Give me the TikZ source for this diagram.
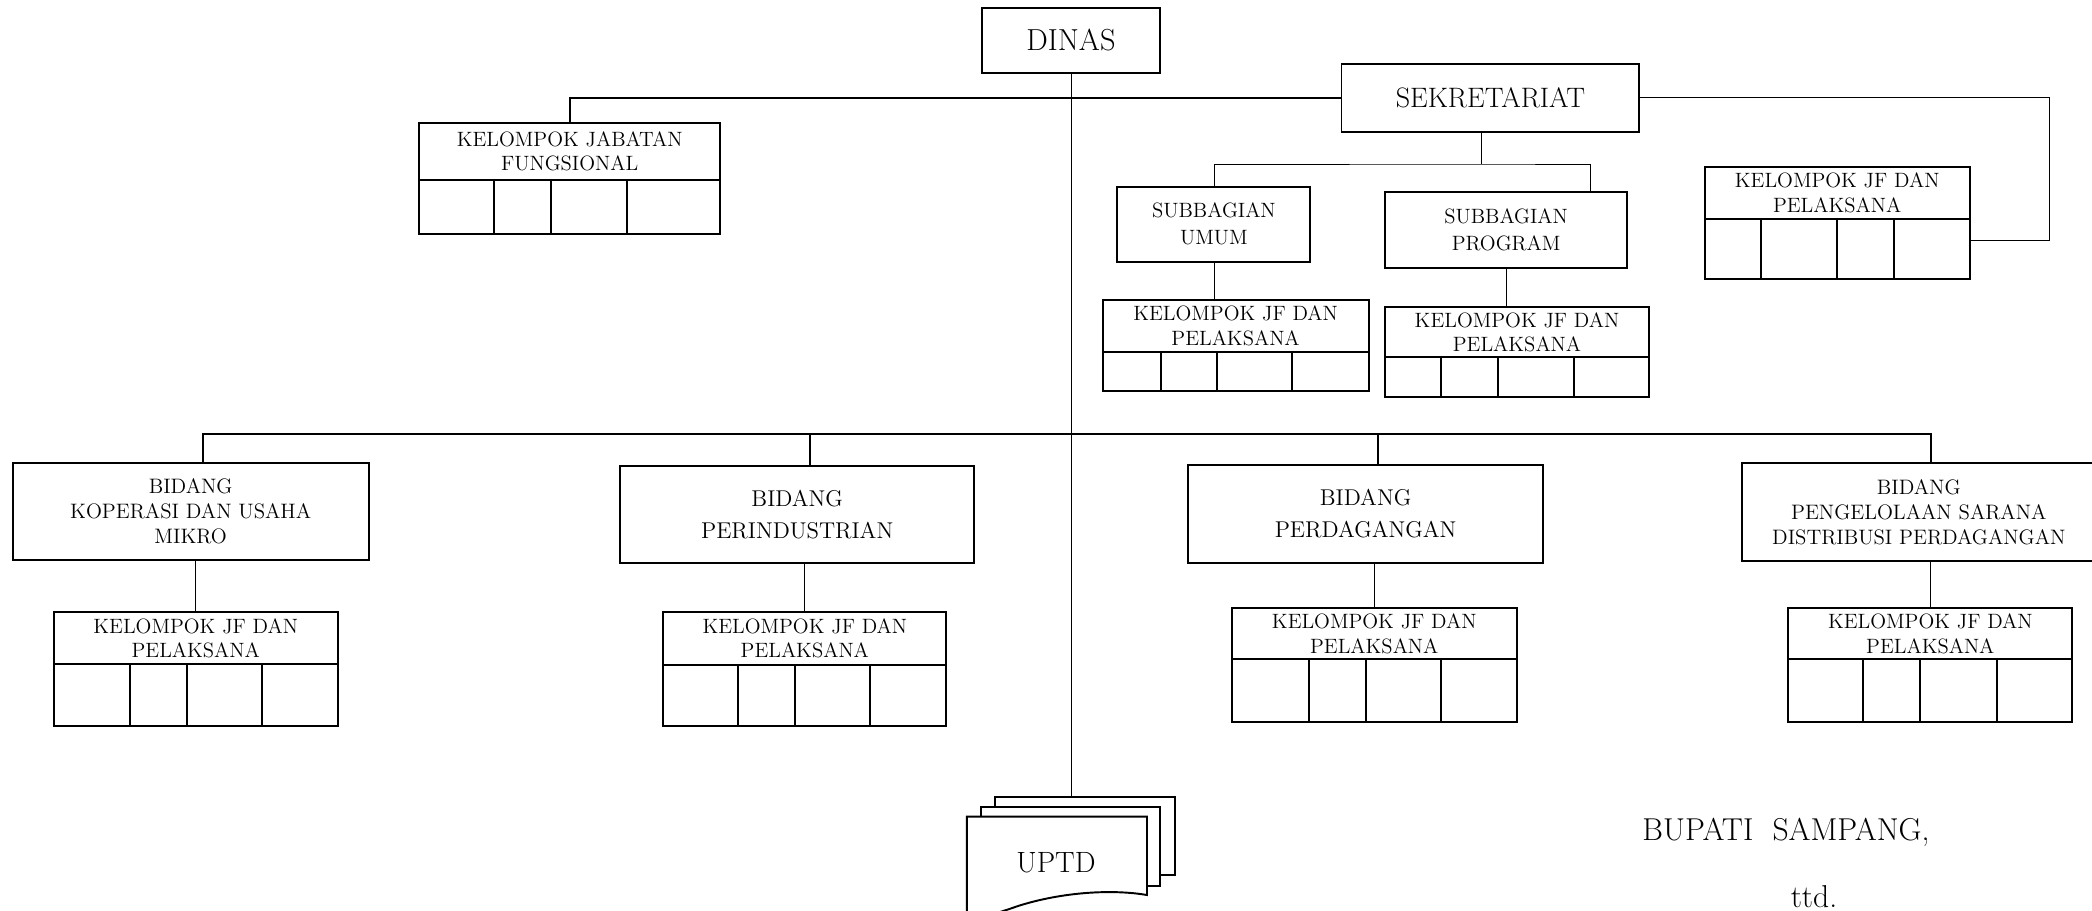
\documentclass[tikz,border=0pt]{standalone}
\usetikzlibrary{positioning}

\tikzset{
  unit/.style={draw, line width=1.1pt, inner sep=0pt, outer sep=0pt, align=center, fill=white},
  kjf/.style={unit, font=\fontsize{11.8}{13.8}\selectfont},
  sub/.style={unit, font=\fontsize{11.8}{15.3}\selectfont},
  bidang/.style={unit, font=\fontsize{13}{18}\selectfont},
  bidlong/.style={unit, font=\fontsize{11.9}{14.2}\selectfont},
  link/.style={line width=0.45pt},
  bus/.style={line width=1.1pt},
  wall/.style={line width=1.1pt},
}

\begin{document}
\begin{tikzpicture}[x=0.02cm, y=-0.02cm]
    \useasboundingbox (0,0) rectangle (2092,910);

    \node[unit, font=\fontsize{17.3}{20}\selectfont, anchor=north west, minimum width=3.56cm, minimum height=1.3cm] (dinas) at (982,8) {DINAS};
    \node[unit, font=\fontsize{16}{19}\selectfont, anchor=north west, minimum width=5.96cm, minimum height=1.354cm] (sek) at (1341.5,64) {SEKRETARIAT};

    \node[kjf, anchor=north west, minimum width=6.028cm, minimum height=1.146cm] (kjfjab) at (419,122.7) {KELOMPOK JABATAN\\FUNGSIONAL};
    \node[unit, below=0pt of kjfjab, minimum width=6.028cm, minimum height=1.086cm] (kjfjab-c) {};
    \foreach \c in {75,132,208} \draw[wall] ([xshift=\c*0.02cm]kjfjab-c.north west) -- ([xshift=\c*0.02cm]kjfjab-c.south west);

    % sekretariat
    \node[sub, anchor=north west, minimum width=3.86cm, minimum height=1.5cm] (subum) at (1117.4,186.7) {SUBBAGIAN\\UMUM};
    \node[sub, anchor=north west, minimum width=4.828cm, minimum height=1.532cm] (subprog) at (1385.4,191.7) {SUBBAGIAN\\PROGRAM};

    \node[kjf, anchor=north west, minimum width=5.32cm, minimum height=1.034cm] (kjfum) at (1102.6,300) {KELOMPOK JF DAN\\PELAKSANA};
    \node[unit, below=0pt of kjfum, minimum width=5.32cm, minimum height=0.78cm] (kjfum-c) {};
    \foreach \c in {58,114,189} \draw[wall] ([xshift=\c*0.02cm]kjfum-c.north west) -- ([xshift=\c*0.02cm]kjfum-c.south west);

    \node[kjf, anchor=north west, minimum width=5.294cm, minimum height=1.012cm] (kjfpr) at (1384.7,306.7) {KELOMPOK JF DAN\\PELAKSANA};
    \node[unit, below=0pt of kjfpr, minimum width=5.294cm, minimum height=0.8cm] (kjfpr-c) {};
    \foreach \c in {56,113,189} \draw[wall] ([xshift=\c*0.02cm]kjfpr-c.north west) -- ([xshift=\c*0.02cm]kjfpr-c.south west);

    \node[kjf, anchor=north west, minimum width=5.294cm, minimum height=1.046cm] (kjfsek) at (1704.9,166.7) {KELOMPOK JF DAN\\PELAKSANA};
    \node[unit, below=0pt of kjfsek, minimum width=5.294cm, minimum height=1.2cm] (kjfsek-c) {};
    \foreach \c in {56,132,189} \draw[wall] ([xshift=\c*0.02cm]kjfsek-c.north west) -- ([xshift=\c*0.02cm]kjfsek-c.south west);

    % bidang
    \node[bidlong, anchor=north west, minimum width=7.116cm, minimum height=1.934cm] (bidkop) at (12.8,463.3) {BIDANG\\KOPERASI DAN USAHA\\MIKRO};
    \node[bidang, anchor=north west, minimum width=7.092cm, minimum height=1.934cm] (bidind) at (619.9,466) {BIDANG\\PERINDUSTRIAN};
    \node[bidang, anchor=north west, minimum width=7.104cm, minimum height=1.954cm] (biddag) at (1188,465) {BIDANG\\PERDAGANGAN};
    \node[bidlong, anchor=north west, minimum width=7.088cm, minimum height=1.948cm] (bidpeng) at (1741.6,463.3) {BIDANG\\PENGELOLAAN SARANA\\DISTRIBUSI PERDAGANGAN};

    \node[kjf, anchor=north west, minimum width=5.688cm, minimum height=1.028cm] (kjfkop) at (53.6,612.3) {KELOMPOK JF DAN\\PELAKSANA};
    \node[unit, below=0pt of kjfkop, minimum width=5.688cm, minimum height=1.24cm] (kjfkop-c) {};
    \foreach \c in {76,133,208} \draw[wall] ([xshift=\c*0.02cm]kjfkop-c.north west) -- ([xshift=\c*0.02cm]kjfkop-c.south west);

    \node[kjf, anchor=north west, minimum width=5.662cm, minimum height=1.054cm] (kjfind) at (663.3,612.3) {KELOMPOK JF DAN\\PELAKSANA};
    \node[unit, below=0pt of kjfind, minimum width=5.662cm, minimum height=1.214cm] (kjfind-c) {};
    \foreach \c in {75,132,207} \draw[wall] ([xshift=\c*0.02cm]kjfind-c.north west) -- ([xshift=\c*0.02cm]kjfind-c.south west);

    \node[kjf, anchor=north west, minimum width=5.696cm, minimum height=1.02cm] (kjfdag) at (1231.9,608.3) {KELOMPOK JF DAN\\PELAKSANA};
    \node[unit, below=0pt of kjfdag, minimum width=5.696cm, minimum height=1.248cm] (kjfdag-c) {};
    \foreach \c in {77,134,209} \draw[wall] ([xshift=\c*0.02cm]kjfdag-c.north west) -- ([xshift=\c*0.02cm]kjfdag-c.south west);

    \node[kjf, anchor=north west, minimum width=5.682cm, minimum height=1.02cm] (kjfpeng) at (1788.3,608.3) {KELOMPOK JF DAN\\PELAKSANA};
    \node[unit, below=0pt of kjfpeng, minimum width=5.682cm, minimum height=1.248cm] (kjfpeng-c) {};
    \foreach \c in {75,132,209} \draw[wall] ([xshift=\c*0.02cm]kjfpeng-c.north west) -- ([xshift=\c*0.02cm]kjfpeng-c.south west);

    % uptd
    \node[unit, anchor=north west, minimum width=3.604cm, minimum height=1.554cm] (uptdback) at (995,797.3) {};
    \node[unit, anchor=north west, minimum width=3.574cm, minimum height=1.58cm] (uptdmid) at (981.3,806.7) {};
    \draw[wall, fill=white] (966.9,922) -- (966.9,816.7) -- (1147,816.7) -- (1147,895)
        .. controls (1112,889) and (1062,892) .. (1018,906)
        .. controls (998,913) and (982,918) .. (966.9,918) -- cycle;
    \node[font=\fontsize{16.7}{20}\selectfont] (uptd) at (1056,863) {UPTD};

    % connectors
    \draw[bus] (sek.west) -| (kjfjab.north);
    \draw[link] (sek.east) -- ++(410,0) |- ([yshift=0.18cm]kjfsek-c.east);
    \draw[link] ([xshift=-0.18cm]sek.south) -- ++(0,32.3) coordinate (fork);
    \draw[link] (subum.north) |- (fork) -| ([xshift=1.68cm]subprog.north);
    \draw[link] (subum.south) -- (subum.south |- kjfum.north);
    \draw[link] (subprog.south) -- (subprog.south |- kjfpr.north);
    \draw[link] (dinas.south) -- (dinas.south |- uptdback.north);

    \draw[bus] ([xshift=0.25cm]bidkop.north) -- ++(0,-29.3) coordinate (rail) -| ([xshift=0.25cm]bidpeng.north);
    \foreach \n in {bidind,biddag} \draw[bus] ([xshift=0.25cm]\n.north) -- ([xshift=0.25cm]\n.north |- rail);
    \foreach \n/\m in {bidkop/kjfkop,bidind/kjfind,biddag/kjfdag,bidpeng/kjfpeng}
        \draw[link] (\m.north) -- (\m.north |- \n.south);

    \node[font=\fontsize{18}{20}\selectfont, anchor=base] (bupati) at (1786,840) {BUPATI\ \ SAMPANG,};
    \node[font=\fontsize{18}{20}\selectfont, anchor=base] (ttd) at (1814,907) {ttd.};
\end{tikzpicture}
\end{document}
